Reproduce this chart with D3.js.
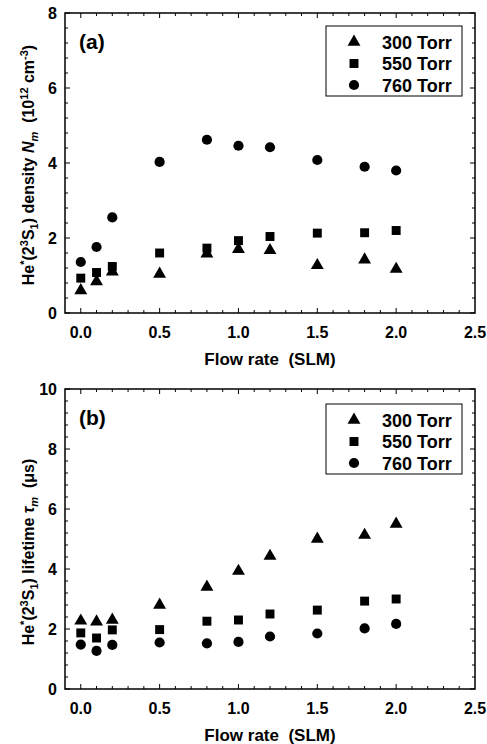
<!DOCTYPE html>
<html>
<head>
<meta charset="utf-8">
<script src="https://cdn.jsdelivr.net/npm/d3@7"></script>
<style>
  body { margin: 0; background: #fff; }
  text { font-family: "Liberation Sans", Arial, sans-serif; font-weight: bold; fill: #000; }
</style>
</head>
<body>
<svg width="487" height="744"></svg>
<script>
const flow = [0.0, 0.1, 0.2, 0.5, 0.8, 1.0, 1.2, 1.5, 1.8, 2.0];
const series = ["300 Torr", "550 Torr", "760 Torr"];

// (a) density, 10^12 cm^-3
const density300 = [0.6, 0.84, 1.1, 1.04, 1.58, 1.7, 1.67, 1.27, 1.42, 1.17];
const density550 = [0.93, 1.08, 1.24, 1.6, 1.73, 1.93, 2.04, 2.13, 2.14, 2.2];
const density760 = [1.36, 1.76, 2.55, 4.03, 4.62, 4.46, 4.42, 4.08, 3.9, 3.8];

// (b) lifetime, us
const life300 = [2.27, 2.24, 2.3, 2.8, 3.4, 3.93, 4.43, 5.0, 5.13, 5.5];
const life550 = [1.87, 1.7, 1.97, 1.98, 2.26, 2.3, 2.5, 2.63, 2.93, 3.0];
const life760 = [1.48, 1.27, 1.47, 1.55, 1.52, 1.57, 1.75, 1.85, 2.02, 2.17];

const xTicks = [0.0, 0.5, 1.0, 1.5, 2.0, 2.5];

const svg = d3.select("svg");
const symbols = [d3.symbolTriangle, d3.symbolSquare, d3.symbolCircle];
const sizes = [72, 80, 82];

function panel(opt) {
  const g = svg.append("g");
  const x = d3.scaleLinear().domain([-0.1, 2.5]).range([65, 475]);
  const y = d3.scaleLinear().domain([0, opt.ymax]).range([opt.bottom, opt.top]);

  // minor ticks
  const xMinor = d3.range(0, 25).map(i => i / 10);
  const yMinor = d3.range(0, Math.round(opt.ymax / 0.4) + 1).map(i => i * 0.4);

  const ticks = g.append("g").attr("stroke", "#000").attr("stroke-width", 1);
  xMinor.forEach(v => {
    const major = Math.abs(v * 2 - Math.round(v * 2)) < 1e-6;
    const len = major ? 5 : 3;
    ticks.append("line").attr("x1", x(v)).attr("x2", x(v))
      .attr("y1", opt.bottom).attr("y2", opt.bottom - len);
    ticks.append("line").attr("x1", x(v)).attr("x2", x(v))
      .attr("y1", opt.top).attr("y2", opt.top + len);
  });
  yMinor.forEach(v => {
    const major = Math.abs(v / 2 - Math.round(v / 2)) < 1e-6;
    const len = major ? 5 : 3;
    ticks.append("line").attr("x1", 65).attr("x2", 65 + len)
      .attr("y1", y(v)).attr("y2", y(v));
    ticks.append("line").attr("x1", 475).attr("x2", 475 - len)
      .attr("y1", y(v)).attr("y2", y(v));
  });

  g.append("rect").attr("x", 65).attr("y", opt.top)
    .attr("width", 410).attr("height", opt.bottom - opt.top)
    .attr("fill", "none").attr("stroke", "#000").attr("stroke-width", 1.5);

  // tick labels
  g.selectAll(".xl").data(xTicks).join("text")
    .attr("x", d => x(d)).attr("y", opt.bottom + 25)
    .attr("text-anchor", "middle").attr("font-size", 16)
    .text(d => d.toFixed(1));
  g.selectAll(".yl").data(d3.range(0, opt.ymax + 1, 2)).join("text")
    .attr("x", 57).attr("y", d => y(d) + 6)
    .attr("text-anchor", "end").attr("font-size", 16)
    .text(d => d);

  g.append("text").attr("x", 270).attr("y", opt.bottom + 52)
    .attr("text-anchor", "middle").attr("font-size", 17)
    .attr("xml:space", "preserve")
    .text("Flow rate  (SLM)");

  const yl = g.append("text")
    .attr("transform", `translate(34,${opt.ylabelY}) rotate(-90)`)
    .attr("text-anchor", "middle").attr("font-size", 16)
    .attr("xml:space", "preserve");
  opt.ylabel(yl);

  g.append("text").attr("x", 79).attr("y", opt.top + 36)
    .attr("font-size", 21).attr("font-weight", "normal")
    .text(opt.tag);

  // data
  opt.data.forEach((vals, i) => {
    g.append("g").selectAll("path").data(vals).join("path")
      .attr("transform", (d, j) => `translate(${x(flow[j])},${y(d)})`)
      .attr("d", d3.symbol().type(symbols[i]).size(sizes[i]));
  });

  // legend
  const lg = g.append("g");
  lg.append("rect").attr("x", 326).attr("y", opt.legTop)
    .attr("width", 136).attr("height", 70)
    .attr("fill", "#fff").attr("stroke", "#000").attr("stroke-width", 1);
  series.forEach((s, i) => {
    const cy = opt.legTop + 16 + i * 21.5;
    lg.append("path").attr("transform", `translate(354,${cy})`)
      .attr("d", d3.symbol().type(symbols[i]).size(sizes[i]));
    lg.append("text").attr("x", 382).attr("y", cy + 6.5)
      .attr("font-size", 18).text(s);
  });
}

function labelHead(t) {
  t.append("tspan").text("He");
  t.append("tspan").attr("dy", -6).attr("font-size", 11).text("*");
  t.append("tspan").attr("dy", 6).text("(2");
  t.append("tspan").attr("dy", -6).attr("font-size", 11).text("3");
  t.append("tspan").attr("dy", 6).text("S");
  t.append("tspan").attr("dy", 4).attr("font-size", 11).text("1");
}

panel({
  top: 13, bottom: 313, ymax: 8, legTop: 26, tag: "(a)", ylabelY: 165,
  data: [density300, density550, density760],
  ylabel: t => {
    labelHead(t);
    t.append("tspan").attr("dy", -4).text(") density ");
    t.append("tspan").attr("font-style", "italic").text("N");
    t.append("tspan").attr("dy", 4).attr("font-size", 11).attr("font-style", "italic").text("m");
    t.append("tspan").attr("dy", -4).text("  (10");
    t.append("tspan").attr("dy", -6).attr("font-size", 11).text("12");
    t.append("tspan").attr("dy", 6).text(" cm");
    t.append("tspan").attr("dy", -6).attr("font-size", 11).text("-3");
    t.append("tspan").attr("dy", 6).text(")");
  }
});

panel({
  top: 389, bottom: 689, ymax: 10, legTop: 404, tag: "(b)", ylabelY: 552,
  data: [life300, life550, life760],
  ylabel: t => {
    labelHead(t);
    t.append("tspan").attr("dy", -4).text(") lifetime ");
    t.append("tspan").attr("font-style", "italic").text("τ");
    t.append("tspan").attr("dy", 4).attr("font-size", 11).attr("font-style", "italic").text("m");
    t.append("tspan").attr("dy", -4).text("  (μs)");
  }
});
</script>
</body>
</html>
